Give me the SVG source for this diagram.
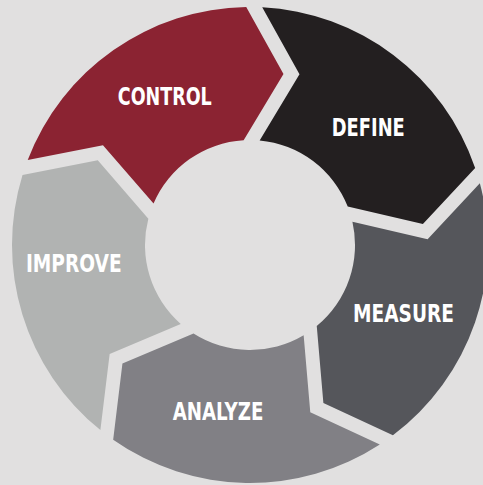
<svg xmlns="http://www.w3.org/2000/svg" width="483" height="485" viewBox="0 0 483 485">
  <style>
    .bg { fill: #e1e0e0; }
    .seg { stroke: none; }
    .lbl { font-family: "DejaVu Sans Condensed", "DejaVu Sans", "Liberation Sans Narrow", sans-serif; font-stretch: condensed; font-weight: bold; font-size: 24px; fill: #ffffff; text-anchor: middle; }
  </style>
  <rect class="bg" x="0" y="0" width="483" height="485"/>
  <g id="define">
    <path class="seg" fill="#231f20" d="M262.23,7.31 A238,238 0 0 1 475.16,167.88 L422.92,224.03 L347.72,206.57 A105,105 0 0 0 259.66,140.44 L299.49,74.34 Z"/>
    <text class="lbl" x="368.3" y="135.7" textLength="73" lengthAdjust="spacingAndGlyphs">DEFINE</text>
  </g>
  <g id="measure">
    <path class="seg" fill="#55565b" d="M479.84,183.18 A238,238 0 0 1 392.92,435.31 L323.38,402.98 L316.75,326.07 A105,105 0 0 0 352.42,221.87 L427.60,239.33 Z"/>
    <text class="lbl" x="403.5" y="322" textLength="101" lengthAdjust="spacingAndGlyphs">MEASURE</text>
  </g>
  <g id="analyze">
    <path class="seg" fill="#818085" d="M379.82,444.49 A238,238 0 0 1 113.17,439.74 L122.43,363.61 L193.53,333.53 A105,105 0 0 0 303.65,335.26 L310.28,412.16 Z"/>
    <text class="lbl" x="218" y="420" textLength="90.7" lengthAdjust="spacingAndGlyphs">ANALYZE</text>
  </g>
  <g id="improve">
    <path class="seg" fill="#b1b3b2" d="M100.39,430.11 A238,238 0 0 1 22.51,175.04 L97.77,160.33 L148.35,218.65 A105,105 0 0 0 180.73,323.91 L109.65,353.98 Z"/>
    <text class="lbl" x="73.8" y="272" textLength="95.7" lengthAdjust="spacingAndGlyphs">IMPROVE</text>
  </g>
  <g id="control">
    <path class="seg" fill="#8b2332" d="M27.72,159.92 A238,238 0 0 1 246.23,7.03 L283.49,74.06 L243.65,140.18 A105,105 0 0 0 153.54,203.51 L102.98,145.20 Z"/>
    <text class="lbl" x="164.8" y="105" textLength="94" lengthAdjust="spacingAndGlyphs">CONTROL</text>
  </g>
</svg>
